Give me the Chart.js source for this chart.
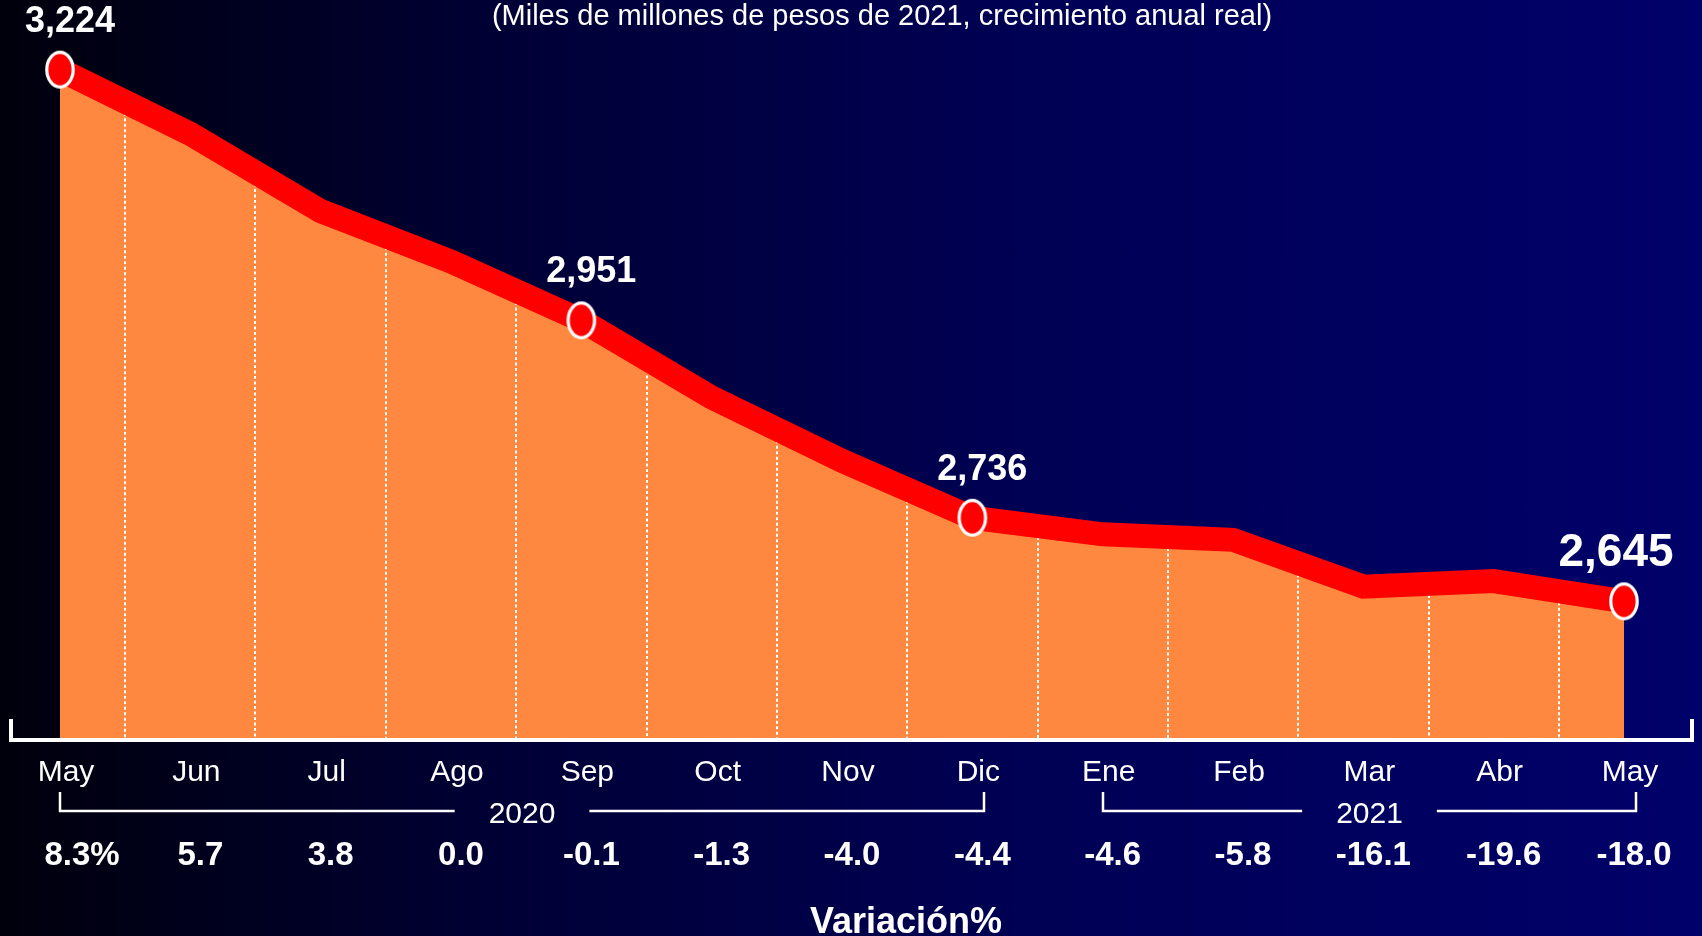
<!DOCTYPE html>
<html><head><meta charset="utf-8">
<script src="https://cdn.jsdelivr.net/npm/chart.js@4.4.1/dist/chart.umd.min.js"></script>
<style>
html,body{margin:0;padding:0;background:#000;overflow:hidden;}
#wrap{position:relative;width:1702px;height:936px;background:linear-gradient(90deg,#00000c 0%,#000036 30%,#000054 60%,#00006a 100%);}
canvas{display:block;}
</style></head><body>
<div id="wrap"><canvas id="c" width="1702" height="936"></canvas></div>
<script>
const months = ['May','Jun','Jul','Ago','Sep','Oct','Nov','Dic','Ene','Feb','Mar','Abr','May'];
const values = [3224,3154,3070,3015,2951,2867,2798,2736,2718,2712,2661,2667,2645];
const labeledPoints = [0,4,7,12];
const variation = [8.3,5.7,3.8,0.0,-0.1,-1.3,-4.0,-4.4,-4.6,-5.8,-16.1,-19.6,-18.0];
const yearLabels = ['2020','2021'];
const yearFirst = [0,8];
const yearLast = [7,12];
const subtitle = '(Miles de millones de pesos de 2021, crecimiento anual real)';
const footer = 'Variación%';

const FONT = '"Liberation Sans", Arial, Helvetica, sans-serif';

function makeMarker(){
  const c = document.createElement('canvas');
  c.width = 34; c.height = 42;
  const g = c.getContext('2d');
  g.beginPath();
  g.ellipse(17,21,13.2,17.3,0,0,Math.PI*2);
  g.fillStyle = '#ff0000'; g.fill();
  g.lineWidth = 3.2; g.strokeStyle = '#ffffff'; g.stroke();
  return c;
}
const marker = makeMarker();

const fmt = v => v.toLocaleString('en-US');

const overlay = {
  id: 'overlay',
  beforeDatasetsDraw(chart){
    const ctx = chart.ctx, xs = chart.scales.x, ys = chart.scales.y, a = chart.chartArea;
    ctx.save();
    ctx.strokeStyle = '#ffffff';
    ctx.lineWidth = 2;
    ctx.setLineDash([3,2.5]);
    for (let i = 0; i < values.length - 1; i++) {
      const xm = Math.round((xs.getPixelForValue(i) + xs.getPixelForValue(i+1)) / 2);
      const ym = (ys.getPixelForValue(values[i]) + ys.getPixelForValue(values[i+1])) / 2;
      ctx.beginPath(); ctx.moveTo(xm, ym); ctx.lineTo(xm, a.bottom); ctx.stroke();
    }
    ctx.restore();
  },
  afterDraw(chart){
    const ctx = chart.ctx, xs = chart.scales.x, a = chart.chartArea;
    const W = chart.width;
    ctx.save();
    // base axis bracket
    ctx.strokeStyle = '#ffffff';
    ctx.lineWidth = 4;
    ctx.beginPath();
    ctx.moveTo(11, a.bottom - 21); ctx.lineTo(11, a.bottom); ctx.lineTo(W - 10, a.bottom); ctx.lineTo(W - 10, a.bottom - 21);
    ctx.stroke();

    // value labels above markers
    const meta = chart.getDatasetMeta(0);
    ctx.fillStyle = '#ffffff';
    ctx.textAlign = 'center';
    ctx.textBaseline = 'middle';
    labeledPoints.forEach((idx) => {
      const p = meta.data[idx];
      const last = idx === values.length - 1;
      ctx.font = 'bold ' + (last ? 46 : 36) + 'px ' + FONT;
      ctx.fillText(fmt(values[idx]), p.x + (last ? -8 : 10), p.y - 48);
    });

    // year brackets
    ctx.lineWidth = 2.5;
    ctx.font = '30px ' + FONT;
    const yb = 811;
    yearLabels.forEach((lab, k) => {
      const l = Math.round(xs.getPixelForValue(yearFirst[k]));
      const r = Math.round(xs.getPixelForValue(yearLast[k])) + 12;
      const c = (l + r) / 2;
      const half = ctx.measureText(lab).width / 2 + 34;
      ctx.beginPath();
      ctx.moveTo(l, yb - 19); ctx.lineTo(l, yb); ctx.lineTo(c - half, yb);
      ctx.moveTo(c + half, yb); ctx.lineTo(r, yb); ctx.lineTo(r, yb - 19);
      ctx.stroke();
      ctx.fillText(lab, c, 815);
    });

    // variation row
    ctx.font = 'bold 33px ' + FONT;
    variation.forEach((v, i) => {
      const t = v.toFixed(1) + (i === 0 ? '%' : '');
      ctx.fillText(t, xs.getPixelForValue(i) + (i === 0 ? 22 : 10), 856);
    });

    // footer
    ctx.font = 'bold 36px ' + FONT;
    ctx.textBaseline = 'alphabetic';
    ctx.fillText(footer, 906, 933);

    // subtitle
    ctx.font = '29px ' + FONT;
    ctx.textBaseline = 'middle';
    ctx.fillText(subtitle, 882, 17);
    ctx.restore();
  }
};

new Chart(document.getElementById('c'), {
  type: 'line',
  data: {
    labels: months,
    datasets: [{
      data: values,
      borderColor: '#ff0000',
      borderWidth: 24,
      borderJoinStyle: 'miter',
      borderCapStyle: 'butt',
      backgroundColor: '#ff8840',
      fill: 'start',
      tension: 0,
      clip: false,
      pointStyle: marker,
      pointRadius: ctx => labeledPoints.includes(ctx.dataIndex) ? 15 : 0,
      pointHoverRadius: ctx => labeledPoints.includes(ctx.dataIndex) ? 15 : 0
    }]
  },
  options: {
    responsive: false,
    animation: false,
    events: [],
    layout: { padding: { left: 60, right: 78, top: 60, bottom: 130 } },
    plugins: {
      legend: { display: false },
      tooltip: { enabled: false },
      title: { display: false },
      filler: { drawTime: 'beforeDatasetsDraw' }
    },
    scales: {
      x: {
        offset: false,
        grid: { display: false, drawTicks: false },
        border: { display: false },
        ticks: {
          color: '#ffffff',
          font: { family: FONT, size: 30 },
          padding: 15,
          labelOffset: 6,
          maxRotation: 0,
          autoSkip: false
        }
      },
      y: {
        display: false,
        min: 2494,
        max: 3234.5
      }
    }
  },
  plugins: [overlay]
});
</script>
</body></html>
